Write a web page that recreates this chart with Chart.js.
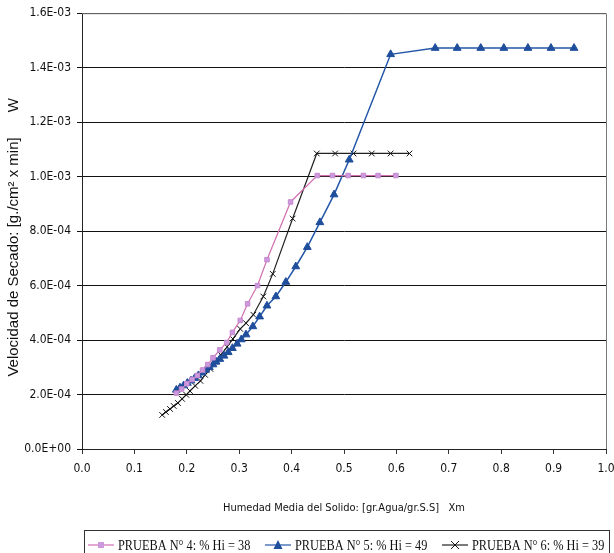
<!DOCTYPE html>
<html lang="es">
<head>
<meta charset="UTF-8">
<title>Velocidad de Secado</title>
<script src="https://cdn.jsdelivr.net/npm/chart.js"></script>
<style>
  body { margin: 0; background: white; }
  #wrap { width: 614px; height: 553px; }
</style>
</head>
<body>
<div id="wrap"><canvas id="chart" width="614" height="553"></canvas></div>
<script>
// PRUEBA N° 4
const x4 = [0.180, 0.19, 0.20, 0.21, 0.22, 0.23, 0.24, 0.25, 0.263, 0.276, 0.287, 0.302, 0.316, 0.335, 0.353, 0.398,
            0.449, 0.478, 0.508, 0.537, 0.565, 0.599];
const y4 = [2.05e-4, 2.2e-4, 2.4e-4, 2.55e-4, 2.7e-4, 2.9e-4, 3.1e-4, 3.35e-4, 3.64e-4, 3.91e-4, 4.28e-4, 4.72e-4, 5.33e-4, 6.0e-4, 6.95e-4, 9.07e-4,
            1.004e-3, 1.004e-3, 1.004e-3, 1.004e-3, 1.004e-3, 1.004e-3];

// PRUEBA N° 5
const x5 = [0.180, 0.187, 0.194, 0.201, 0.208, 0.215, 0.222, 0.229, 0.236, 0.243, 0.250, 0.256, 0.263, 0.271, 0.279, 0.287,
            0.296, 0.304, 0.313, 0.326, 0.339, 0.353, 0.370, 0.389, 0.408, 0.430, 0.454, 0.481, 0.510, 0.589,
            0.674, 0.716, 0.761, 0.805, 0.851, 0.895, 0.939];
const y5 = [2.17e-4, 2.25e-4, 2.33e-4, 2.42e-4, 2.51e-4, 2.6e-4, 2.7e-4, 2.8e-4, 2.9e-4, 3.0e-4, 3.1e-4, 3.2e-4, 3.3e-4, 3.42e-4, 3.55e-4, 3.7e-4,
            3.86e-4, 4.02e-4, 4.2e-4, 4.5e-4, 4.86e-4, 5.26e-4, 5.6e-4, 6.13e-4, 6.7e-4, 7.41e-4, 8.32e-4, 9.34e-4, 1.062e-3, 1.449e-3,
            1.472e-3, 1.472e-3, 1.472e-3, 1.472e-3, 1.472e-3, 1.472e-3, 1.472e-3];

// PRUEBA N° 6
const x6 = [0.153, 0.160, 0.168, 0.175, 0.183, 0.191, 0.199, 0.206, 0.216, 0.226, 0.235, 0.245, 0.254, 0.265, 0.277, 0.288,
            0.302, 0.313, 0.327, 0.346, 0.364, 0.402, 0.448, 0.483, 0.518, 0.553, 0.589, 0.625];
const y6 = [1.25e-4, 1.36e-4, 1.47e-4, 1.58e-4, 1.69e-4, 1.84e-4, 1.99e-4, 2.13e-4, 2.32e-4, 2.5e-4, 2.72e-4, 2.94e-4, 3.2e-4, 3.46e-4, 3.75e-4, 4.04e-4,
            4.41e-4, 4.62e-4, 4.93e-4, 5.6e-4, 6.43e-4, 8.46e-4, 1.085e-3, 1.085e-3, 1.085e-3, 1.085e-3, 1.085e-3, 1.085e-3];

const seriesNames = ['PRUEBA N° 4: % Hi = 38', 'PRUEBA N° 5: % Hi = 49', 'PRUEBA N° 6: % Hi = 39'];

const toPts = (xs, ys) => xs.map((x, i) => ({ x: x, y: ys[i] }));

function sci(v) {
  if (Math.abs(v) < 1e-12) return '0.0E+00';
  const [m, e] = v.toExponential(1).split('e');
  const n = parseInt(e, 10);
  return m + 'E' + (n < 0 ? '-' : '+') + String(Math.abs(n)).padStart(2, '0');
}

// legend markers (line + symbol), one per series
const legendMarks = [
  (g, x, y) => { g.fillStyle = '#cc99dd'; g.fillRect(x - 3, y - 3, 6, 6); },
  (g, x, y) => {
    g.fillStyle = '#1f4e9c';
    g.beginPath(); g.moveTo(x, y - 5); g.lineTo(x + 4.5, y + 4); g.lineTo(x - 4.5, y + 4); g.closePath(); g.fill();
  },
  (g, x, y) => {
    g.strokeStyle = '#111'; g.lineWidth = 1;
    g.beginPath(); g.moveTo(x - 4, y - 4); g.lineTo(x + 4, y + 4); g.moveTo(x + 4, y - 4); g.lineTo(x - 4, y + 4); g.stroke();
  }
];

const framePlugin = {
  id: 'frame',
  beforeDatasetsDraw(chart) {
    const { ctx, chartArea: a } = chart;
    ctx.save();
    ctx.strokeStyle = '#777';
    ctx.lineWidth = 1;
    ctx.beginPath();
    ctx.moveTo(a.left, a.top + 0.5); ctx.lineTo(a.right + 0.5, a.top + 0.5); ctx.lineTo(a.right + 0.5, a.bottom);
    ctx.stroke();
    ctx.restore();
  },
  afterDraw(chart) {
    // boxed legend under the x title
    const { ctx } = chart;
    const top = 530.5, cy = 545;
    const starts = [88, 265, 442];
    ctx.save();
    ctx.strokeStyle = '#333';
    ctx.lineWidth = 1;
    ctx.strokeRect(84.5, top, 525, 40);
    chart.data.datasets.forEach((ds, i) => {
      const x0 = starts[i];
      ctx.strokeStyle = ds.borderColor;
      ctx.lineWidth = 1.2;
      ctx.beginPath(); ctx.moveTo(x0, cy); ctx.lineTo(x0 + 26, cy); ctx.stroke();
      legendMarks[i](ctx, x0 + 13, cy);
      ctx.save();
      ctx.translate(x0 + 30, cy);
      ctx.scale(0.88, 1);
      ctx.fillStyle = '#111';
      ctx.font = '14px "Liberation Serif", "Times New Roman", serif';
      ctx.textBaseline = 'middle';
      ctx.fillText(ds.label, 0, 1);
      ctx.restore();
    });
    ctx.restore();
  }
};

const tickFont = { family: '"Liberation Sans Narrow", "DejaVu Sans Condensed", "Liberation Sans", Arial, sans-serif', size: 12 };

new Chart(document.getElementById('chart'), {
  type: 'line',
  data: {
    datasets: [
      {
        label: seriesNames[0], data: toPts(x4, y4),
        borderColor: '#d070b0', borderWidth: 1.2, pointStyle: 'rect', pointRadius: 3.2,
        pointBackgroundColor: '#cc99dd', pointBorderColor: '#c58ad0', pointBorderWidth: 1, tension: 0
      },
      {
        label: seriesNames[1], data: toPts(x5, y5),
        borderColor: '#2456a8', borderWidth: 1.5, pointStyle: 'triangle', pointRadius: 4.5,
        pointBackgroundColor: '#1f4e9c', pointBorderColor: '#1f4e9c', pointBorderWidth: 1, tension: 0
      },
      {
        label: seriesNames[2], data: toPts(x6, y6),
        borderColor: '#222', borderWidth: 1.2, pointStyle: 'crossRot', pointRadius: 4,
        pointBorderColor: '#111', pointBorderWidth: 1, tension: 0
      }
    ]
  },
  options: {
    responsive: false,
    animation: false,
    layout: { padding: { left: 0, right: 8, top: 9, bottom: 25 } },
    scales: {
      x: {
        type: 'linear', min: 0, max: 1,
        ticks: { stepSize: 0.1, color: '#111', font: tickFont, padding: 8, callback: v => v.toFixed(1) },
        grid: { drawOnChartArea: false, drawTicks: true, tickLength: 5, color: '#333' },
        border: { display: true, color: '#222', width: 1 },
        title: {
          display: true, text: 'Humedad Media del Solido: [gr.Agua/gr.S.S]   Xm',
          color: '#111', font: { family: tickFont.family, size: 11 }, padding: { top: 4, bottom: 13 }
        },
        afterFit(scale) { scale.height = 79; scale.paddingLeft = 0; scale.paddingRight = 0; }
      },
      y: {
        type: 'linear', min: 0, max: 1.6e-3,
        ticks: { stepSize: 2e-4, color: '#111', font: tickFont, padding: 6, callback: v => sci(v) },
        grid: { color: '#111', lineWidth: 1, tickLength: 5 },
        border: { display: true, color: '#222', width: 1 },
        title: {
          display: true, text: 'Velocidad de Secado: [g./cm² x min]      W   ',
          color: '#111', font: { family: '"Liberation Sans", Arial, sans-serif', size: 15 }, padding: { top: 5, bottom: 4 }
        },
        afterFit(scale) { scale.width = 82; }
      }
    },
    plugins: {
      legend: { display: false },
      tooltip: { enabled: false }
    }
  },
  plugins: [framePlugin]
});
</script>
</body>
</html>
